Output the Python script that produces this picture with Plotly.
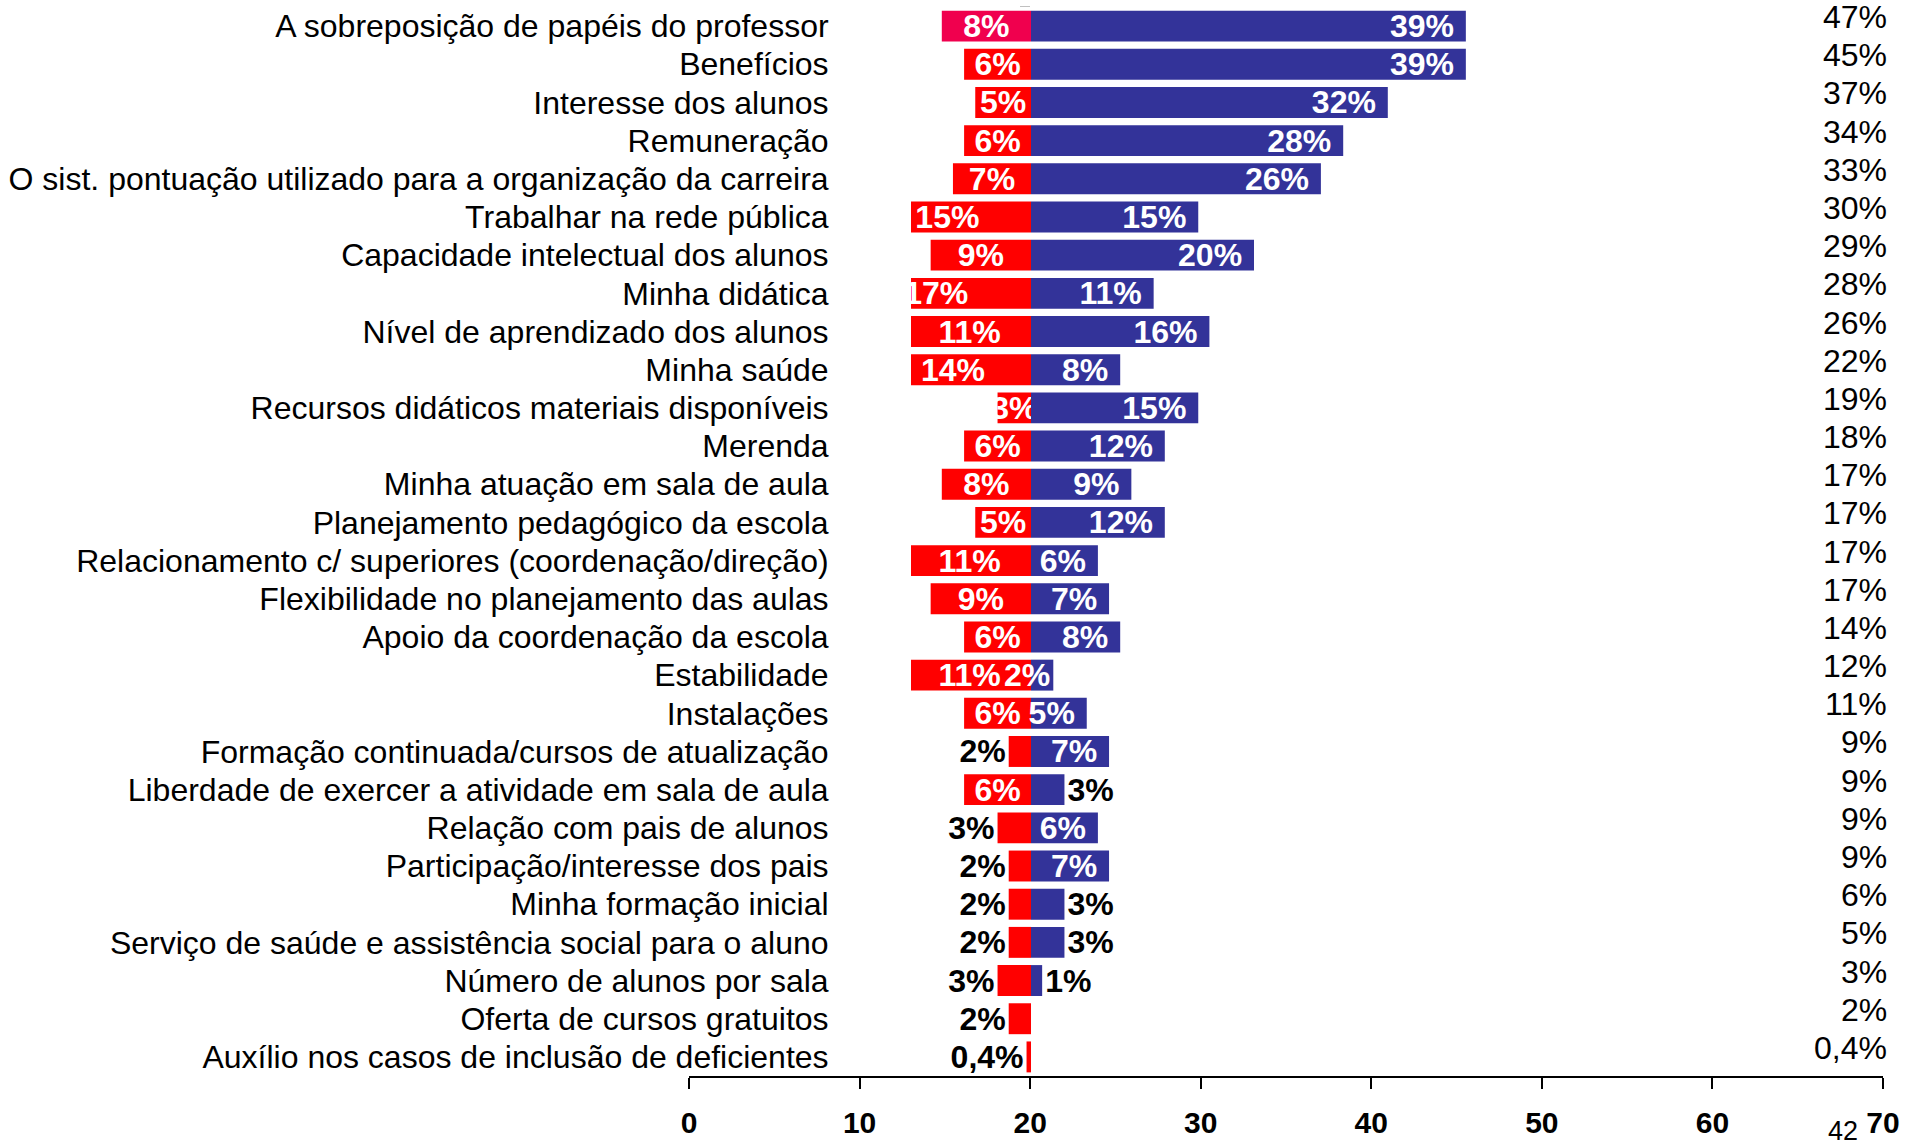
import plotly.graph_objects as go

# --- DATA ---
categories = [
    "A sobreposição de papéis do professor",
    "Benefícios",
    "Interesse dos alunos",
    "Remuneração",
    "O sist. pontuação utilizado para a organização da carreira",
    "Trabalhar na rede pública",
    "Capacidade intelectual dos alunos",
    "Minha didática",
    "Nível de aprendizado dos alunos",
    "Minha saúde",
    "Recursos didáticos materiais disponíveis",
    "Merenda",
    "Minha atuação em sala de aula",
    "Planejamento pedagógico da escola",
    "Relacionamento c/ superiores (coordenação/direção)",
    "Flexibilidade no planejamento das aulas",
    "Apoio da coordenação da escola",
    "Estabilidade",
    "Instalações",
    "Formação continuada/cursos de atualização",
    "Liberdade de exercer a atividade em sala de aula",
    "Relação com pais de alunos",
    "Participação/interesse dos pais",
    "Minha formação inicial",
    "Serviço de saúde e assistência social para o aluno",
    "Número de alunos por sala",
    "Oferta de cursos gratuitos",
    "Auxílio nos casos de inclusão de deficientes",
]
red_values = [8, 6, 5, 6, 7, 15, 9, 17, 11, 14, 3, 6, 8, 5, 11, 9, 6, 11, 6, 2, 6, 3, 2, 2, 2, 3, 2, 0.4]
blue_values = [39, 39, 32, 28, 26, 15, 20, 11, 16, 8, 15, 12, 9, 12, 6, 7, 8, 2, 5, 7, 3, 6, 7, 3, 3, 1, None, None]
totals = ["47%", "45%", "37%", "34%", "33%", "30%", "29%", "28%", "26%", "22%", "19%", "18%", "17%", "17%",
          "17%", "17%", "14%", "12%", "11%", "9%", "9%", "9%", "9%", "6%", "5%", "3%", "2%", "0,4%"]
# labels drawn outside the bar (black) instead of inside (white)
red_outside = {19, 21, 22, 23, 24, 25, 26, 27}
blue_outside = {20, 23, 24, 25}
x_ticks = [0, 10, 20, 30, 40, 50, 60, 70]

FONT = "Liberation Sans, Arial, sans-serif"
W, H = 1907, 1146


def pct(v):
    return "" if v is None else (f"{v:g}%").replace(".", ",")


n = len(categories)
red_text = [pct(v) for v in red_values]
# blue labels inside the bar sit a little away from the bar end
blue_text = [pct(v) + ("\u00a0" if i not in blue_outside and v is not None and v > 2 else "")
             for i, v in enumerate(blue_values)]
red_pos = ["outside" if i in red_outside else "inside" for i in range(n)]
blue_pos = ["outside" if i in blue_outside else "inside" for i in range(n)]
red_txtcol = ["black" if i in red_outside else "white" for i in range(n)]
blue_txtcol = ["black" if i in blue_outside else "white" for i in range(n)]
red_colors = ["#F0004E"] + ["#FF0000"] * (n - 1)

fig = go.Figure()

fig.add_trace(go.Bar(
    y=categories, x=[-v for v in red_values], orientation="h",
    xaxis="x2", yaxis="y",
    marker=dict(color=red_colors, line=dict(width=0)),
    text=red_text, textposition=red_pos, insidetextanchor="middle",
    textangle=0, constraintext="none",
    textfont=dict(family=FONT, size=32, color=red_txtcol, weight="bold"),
    hoverinfo="skip", showlegend=False,
))
fig.add_trace(go.Bar(
    y=categories, x=blue_values, orientation="h",
    xaxis="x2", yaxis="y",
    marker=dict(color="#333399", line=dict(width=0)),
    text=blue_text, textposition=blue_pos, insidetextanchor="end",
    textangle=0, constraintext="none",
    textfont=dict(family=FONT, size=32, color=blue_txtcol, weight="bold"),
    hoverinfo="skip", showlegend=False,
))
# empty trace so the visible 0-70 axis gets drawn
fig.add_trace(go.Scatter(x=[], y=[], xaxis="x", yaxis="y", showlegend=False, hoverinfo="skip"))

# totals column on the right
for cat, t in zip(categories, totals):
    fig.add_annotation(x=1889 / W, xref="paper", xanchor="right", y=cat, yref="y",
                       yshift=9, text=t, showarrow=False,
                       font=dict(family=FONT, size=32, color="black"))

# page number
fig.add_annotation(x=1843 / W, xref="paper", xanchor="center", y=-0.051, yref="paper",
                   yanchor="middle", text="42", showarrow=False,
                   font=dict(family=FONT, size=27, color="black"))

x0_px, x70_px, center_px, clip_px = 689, 1883, 1031, 911
px_per_pct = 11.15

fig.update_layout(
    width=W, height=H,
    margin=dict(l=0, r=0, t=7, b=70, autoexpand=False),
    paper_bgcolor="white", plot_bgcolor="white",
    barmode="relative", bargap=0.19,
    font=dict(family=FONT, color="black"),
    xaxis=dict(
        domain=[x0_px / W, x70_px / W], range=[0, 70], anchor="y", automargin=False,
        tickvals=x_ticks, ticks="outside", ticklen=11, tickwidth=2, tickcolor="black",
        showline=True, linecolor="black", linewidth=2,
        showgrid=False, zeroline=False, fixedrange=True,
        tickfont=dict(family=FONT, size=30, color="black", weight="bold"),
        ticklabelstandoff=8,
    ),
    xaxis2=dict(
        domain=[clip_px / W, x70_px / W],
        range=[-(center_px - clip_px) / px_per_pct, (x70_px - center_px) / px_per_pct],
        anchor="y", visible=False, fixedrange=True, automargin=False,
    ),
    yaxis=dict(
        domain=[0, 1], anchor="free", position=center_px / W, automargin=False,
        categoryorder="array", categoryarray=categories, range=[n - 0.5, -0.5],
        showline=True, linecolor="#C0C0C0", linewidth=2,
        ticks="outside", tickson="boundaries", ticklen=10, tickwidth=2, tickcolor="#C0C0C0",
        showgrid=False, zeroline=False, fixedrange=True,
        tickfont=dict(family=FONT, size=32, color="black"),
        ticklabelstandoff=195,
    ),
)

fig.write_html("out.html", config={"displayModeBar": False},
               post_script="document.body.style.margin='0';")
